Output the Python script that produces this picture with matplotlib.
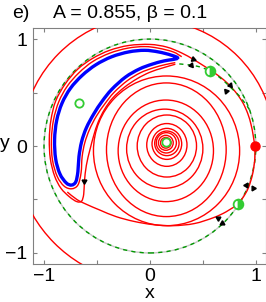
import numpy as np
import matplotlib
matplotlib.use('Agg')
import matplotlib.pyplot as plt
from matplotlib.patches import Circle, Ellipse, Arc, PathPatch
from matplotlib.path import Path

plt.rcParams['font.family'] = ['Liberation Sans', 'DejaVu Sans']

# blue closed orbit (crescent)
blue_x = [0.26, 0.20, 0.08, -0.05, -0.2, -0.36, -0.51, -0.64, -0.75, -0.83, -0.88, -0.9, -0.89, -0.85,
          -0.79, -0.74, -0.70, -0.68, -0.67, -0.645, -0.60, -0.53, -0.45, -0.36, -0.23, -0.1, 0.02, 0.13]
blue_y = [0.82, 0.85, 0.88, 0.895, 0.88, 0.835, 0.76, 0.66, 0.54, 0.40, 0.24, 0.06, -0.12, -0.26,
          -0.345, -0.365, -0.335, -0.24, -0.1, 0.04, 0.17, 0.30, 0.42, 0.53, 0.645, 0.72, 0.765, 0.795]

# red orbit hugging the crescent
hug_x = [0.30, 0.22, 0.08, -0.05, -0.21, -0.38, -0.54, -0.67, -0.78, -0.86, -0.91, -0.93, -0.92, -0.875,
         -0.81, -0.74, -0.68, -0.65, -0.64, -0.615, -0.57, -0.505, -0.425, -0.34, -0.215, -0.09, 0.03, 0.14, 0.24]
hug_y = [0.835, 0.88, 0.915, 0.93, 0.915, 0.868, 0.79, 0.685, 0.56, 0.415, 0.245, 0.06, -0.13, -0.285,
         -0.375, -0.40, -0.365, -0.25, -0.1, 0.03, 0.155, 0.28, 0.395, 0.50, 0.61, 0.685, 0.73, 0.76, 0.78]

# red trajectory leaving the upper saddle, wrapping the crescent and running down to the source
wrap_x = [0.24, 0.12, 0.0, -0.12, -0.24, -0.35, -0.43, -0.49, -0.53, -0.565, -0.60, -0.618, -0.625, -0.645,
          -0.69, -0.76, -0.84, -0.9, -0.94, -0.95, -0.935, -0.89, -0.8, -0.68, -0.54, -0.38, -0.2, 0.0,
          0.16, 0.3, 0.41, 0.5, 0.57, 0.65, 0.74, 0.82, 0.88, 0.925, 0.955, 0.975, 0.99]
wrap_y = [0.765, 0.73, 0.69, 0.63, 0.55, 0.45, 0.34, 0.22, 0.1, -0.03, -0.18, -0.33, -0.45, -0.515,
          -0.52, -0.475, -0.395, -0.28, -0.12, 0.06, 0.24, 0.42, 0.58, 0.72, 0.82, 0.895, 0.94, 0.95,
          0.925, 0.87, 0.81, 0.755, 0.71, 0.655, 0.58, 0.49, 0.40, 0.30, 0.20, 0.10, 0.0]

# red trajectory from the source down to the lower saddle
src2_x = [0.99, 0.99, 0.97, 0.93, 0.88, 0.83]
src2_y = [0.0, -0.12, -0.26, -0.39, -0.48, -0.545]

# red trajectory at the lower saddle along the bottom
bot_x = [0.83, 0.72, 0.60, 0.42, 0.22, 0.03, -0.15, -0.32, -0.47, -0.60, -0.69, -0.78]
bot_y = [-0.545, -0.615, -0.67, -0.725, -0.745, -0.735, -0.705, -0.66, -0.60, -0.545, -0.50, -0.43]

# red arcs outside the unit circle: radius, start and end angle (deg)
out_r = [1.22, 1.18, 1.28]
out_t1 = [100, 10, 195]
out_t2 = [170, 80, 255]

# turns of the spiral around the stable focus: centre, half width, half height
ring_cx = [0.15, 0.15, 0.155, 0.16, 0.16, 0.16, 0.16, 0.14, 0.15, 0.155, 0.157]
ring_cy = [0.03, 0.03, 0.03, 0.025, 0.02, 0.01, 0.0, -0.025, -0.045, -0.035, -0.045]
ring_a = [0.05, 0.07, 0.095, 0.115, 0.14, 0.19, 0.28, 0.36, 0.45, 0.565, 0.69]
ring_b = [0.05, 0.07, 0.095, 0.115, 0.145, 0.20, 0.29, 0.37, 0.475, 0.625, 0.70]

# upper saddle manifold (green dashed)
man_x = [0.94, 0.86, 0.76, 0.66, 0.57, 0.47, 0.36, 0.24]
man_y = [0.34, 0.45, 0.55, 0.64, 0.70, 0.74, 0.76, 0.77]

# arrow heads: position and heading (degrees)
arr_x = [0.41, 0.39, 0.755, 0.72, -0.618, 0.91, 0.975, 0.64, 0.68]
arr_y = [0.815, 0.76, 0.57, 0.51, -0.33, -0.36, -0.395, -0.67, -0.72]
arr_dir = [-20, 190, -50, 130, -90, 60, -120, 30, -150]

# fixed points
open_x = [-0.667, 0.151]
open_y = [0.405, 0.035]
half_x = [0.57, 0.83]
half_y = [0.70, -0.545]
src_x = [0.99]
src_y = [0.0]


def smooth(xs, ys, closed=False):
    # Catmull-Rom through the read points, drawn as cubic Bezier segments
    p = np.column_stack([xs, ys])
    n = len(p)
    if closed:
        p = np.vstack([p[-1], p, p[0], p[1]])
    else:
        p = np.vstack([p[0], p, p[-1]])
    verts = [p[1]]
    codes = [Path.MOVETO]
    last = n + 1 if closed else n
    for i in range(1, last):
        c1 = p[i] + (p[i + 1] - p[i - 1]) / 6
        c2 = p[i + 1] - (p[i + 2] - p[i]) / 6
        verts += [c1, c2, p[i + 1]]
        codes += [Path.CURVE4] * 3
    return Path(verts, codes)


fig = plt.figure(figsize=(2.66, 3.02), dpi=100)
ax = fig.add_axes([0.1256, 0.127, 0.876, 0.779])

red = (1, 0, 0)
green = (0.2, 0.8, 0.2)
dgreen = (0, 0.6, 0)
ax.add_patch(Circle((0, 0), 1.0, fill=False, ec=(0.78, 0.78, 0.78), lw=1.0, zorder=1))
ax.add_patch(Circle((0, 0), 1.0, fill=False, ec=dgreen, lw=1.0, ls=(0, (3, 3)), zorder=2))

for cx, cy, a, b in zip(ring_cx, ring_cy, ring_a, ring_b):
    ax.add_patch(Ellipse((cx, cy), 2 * a, 2 * b, fill=False, ec=red, lw=1.0, zorder=3))

for r, t1, t2 in zip(out_r, out_t1, out_t2):
    ax.add_patch(Arc((0, 0), 2 * r, 2 * r, theta1=t1, theta2=t2, ec=red, lw=1.0, zorder=3))

for xs, ys in [(hug_x, hug_y), (wrap_x, wrap_y), (src2_x, src2_y), (bot_x, bot_y)]:
    ax.add_patch(PathPatch(smooth(xs, ys), fill=False, ec=red, lw=1.0, zorder=3))

ax.add_patch(PathPatch(smooth(man_x, man_y), fill=False, ec=dgreen, lw=1.0, ls=(0, (3, 3)), zorder=4))
ax.add_patch(PathPatch(smooth(blue_x, blue_y, closed=True), fill=False, ec=(0, 0, 1), lw=2.4, zorder=5))

for x, y, d in zip(arr_x, arr_y, arr_dir):
    ax.plot(x, y, marker=(3, 0, d - 90), color='k', ms=4, zorder=6)

ax.plot(open_x, open_y, 'o', ms=6, mfc='white', mec=green, mew=1.3, zorder=7)
ax.plot(half_x, half_y, 'o', ms=7, fillstyle='right', mfc=green, markerfacecoloralt='white',
        mec=green, mew=1.3, zorder=7)
ax.plot(src_x, src_y, 'o', ms=6.5, color=red, zorder=7)

ax.set_xlim(-1.1, 1.1)
ax.set_ylim(-1.1, 1.1)
ax.set_xticks([-1, -0.5, 0, 0.5, 1])
ax.set_xticklabels(['\u22121', '', '0', '', '1'])
ax.set_yticks([-1, -0.5, 0, 0.5, 1])
ax.set_yticklabels(['\u22121', '', '0', '', '1'])
ax.tick_params(direction='in', length=3, width=0.8, colors=(0.5, 0.5, 0.5), labelcolor='k',
               labelsize=14, top=True, right=True)
ax.tick_params(axis='x', pad=3)
ax.tick_params(axis='y', pad=4.5)
for s in ax.spines.values():
    s.set_color((0.5, 0.5, 0.5))
    s.set_linewidth(0.8)

fig.text(150 / 266, 1 - 293 / 302, 'x', fontsize=14, ha='center', va='center')
fig.text(0.0, 1 - 144 / 302, 'y', fontsize=14, ha='left', va='center')
fig.text(0.045, 1 - 13 / 302, 'e)', fontsize=14, va='center')
fig.text(53 / 266, 1 - 13 / 302, 'A = 0.855, \u03b2 = 0.1', fontsize=14, va='center')

fig.savefig('out.png', dpi=100)
